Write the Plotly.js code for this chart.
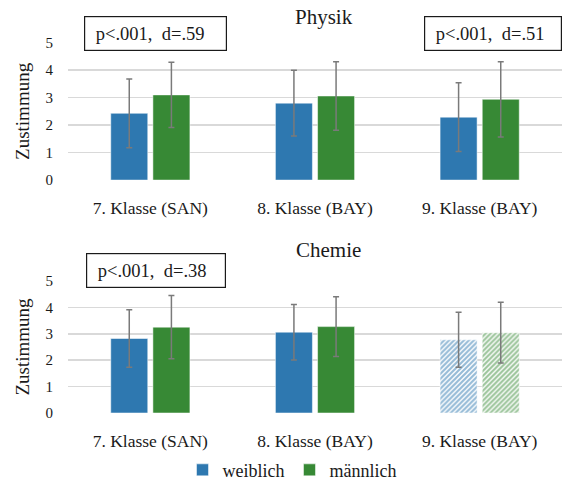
<!DOCTYPE html>
<html>
<head>
<meta charset="utf-8">
<script src="https://cdn.plot.ly/plotly-3.0.1.min.js"></script>
<style>
html,body{margin:0;padding:0;background:#fff;font-family:'Liberation Serif',serif;}
#chart{width:563px;height:489px;}
</style>
</head>
<body>
<div id="chart"></div>
<script>
// ---- data ----
var categories = ['7. Klasse (SAN)', '8. Klasse (BAY)', '9. Klasse (BAY)'];
var seriesNames = ['weiblich', 'männlich'];

var physikWeiblich = [2.43, 2.80, 2.29];
var physikWeiblichSD = [1.25, 1.20, 1.25];
var physikMaennlich = [3.10, 3.06, 2.94];
var physikMaennlichSD = [1.19, 1.25, 1.37];

var chemieWeiblich = [2.82, 3.06, 2.77];
var chemieWeiblichSD = [1.09, 1.05, 1.04];
var chemieMaennlich = [3.25, 3.27, 3.04];
var chemieMaennlichSD = [1.20, 1.13, 1.15];

var chemiePattern = ['', '', '/'];

var yTicks = [0, 1, 2, 3, 4, 5];
var annotationTexts = ['p&lt;.001,  d=.59', 'p&lt;.001,  d=.51', 'p&lt;.001,  d=.38'];
var panelTitles = ['Physik', 'Chemie'];

// ---- style ----
var W = 563, H = 489;
var BLUE = '#2E78B0', GREEN = '#378935';
var FONT = 'Liberation Serif';
var TXT = '#1a1a1a';
function px(x){ return x / W; }
function py(y){ return (H - y) / H; }

function errSpec(arr){
  return {type:'data', array:arr, visible:true, color:'#7a7a7a', thickness:1.5, width:3};
}
function barTrace(name, y, sd, color, xa, ya, showLegend, pattern){
  var t = {
    type:'bar', name:name, x:categories, y:y, xaxis:xa, yaxis:ya,
    marker:{color:color, line:{color:'rgba(255,255,255,0.5)', width:1}},
    error_y:errSpec(sd), showlegend:showLegend, legendgroup:name, hoverinfo:'skip'
  };
  if (pattern) {
    t.marker.pattern = {shape:pattern, fgcolor:color, bgcolor:'#ffffff', size:3.5, solidity:0.62, fillmode:'overlay'};
  }
  return t;
}

var data = [
  barTrace(seriesNames[0], physikWeiblich, physikWeiblichSD, BLUE, 'x', 'y', false),
  barTrace(seriesNames[1], physikMaennlich, physikMaennlichSD, GREEN, 'x', 'y', false),
  barTrace(seriesNames[0], chemieWeiblich, chemieWeiblichSD, BLUE, 'x2', 'y2', true, chemiePattern),
  barTrace(seriesNames[1], chemieMaennlich, chemieMaennlichSD, GREEN, 'x2', 'y2', true, chemiePattern)
];

function xAxis(anchor){
  return {domain:[px(68), px(562)], anchor:anchor, showgrid:false, zeroline:false, showline:false,
    ticks:'', ticklabelstandoff:15, tickfont:{family:FONT, size:17.5, color:TXT}, fixedrange:true};
}
function yAxis(anchor, dom){
  return {domain:dom, anchor:anchor, range:[0,5], tickvals:yTicks, showgrid:true, gridcolor:'#d9d9d9', gridwidth:1.5,
    zeroline:false, showline:false, ticks:'', ticklabelstandoff:14,
    tickfont:{family:FONT, size:15, color:TXT},
    title:{text:'Zustimmung', font:{family:FONT, size:19, color:TXT}, standoff:10}, fixedrange:true};
}

function boxAnn(text, x0, x1, y0, y1){
  var pad = 6;
  return {xref:'paper', yref:'paper', x:px((x0+x1)/2), y:py((y0+y1)/2), xanchor:'center', yanchor:'middle',
    text:'&nbsp;' + text, showarrow:false, font:{family:FONT, size:18.5, color:TXT},
    bordercolor:'#1a1a1a', borderwidth:1.2, borderpad:pad, width:(x1-x0)-2*pad-2, height:(y1-y0)-2*pad-2,
    align:'left', valign:'middle', bgcolor:'#ffffff'};
}
function titleAnn(text, x, y){
  return {xref:'paper', yref:'paper', x:px(x), y:py(y), xanchor:'center', yanchor:'middle', text:text,
    showarrow:false, font:{family:FONT, size:21, color:TXT}};
}

var layout = {
  width:W, height:H, margin:{l:0, r:0, t:0, b:0}, paper_bgcolor:'#ffffff', plot_bgcolor:'#ffffff',
  font:{family:FONT, color:TXT},
  barmode:'group', bargap:0.488, bargroupgap:0.122,
  xaxis:xAxis('y'), yaxis:yAxis('x', [py(182.7), py(43.3)]),
  xaxis2:xAxis('y2'), yaxis2:yAxis('x2', [py(419), py(285)]),
  showlegend:true,
  legend:{orientation:'h', x:px(292), y:py(477), xanchor:'center', yanchor:'middle',
    font:{family:FONT, size:18, color:TXT}, itemwidth:30, tracegroupgap:0, bgcolor:'rgba(0,0,0,0)'},
  annotations:[
    titleAnn(panelTitles[0], 324, 17),
    titleAnn(panelTitles[1], 328, 254),
    boxAnn(annotationTexts[0], 84.3, 226.7, 16, 51),
    boxAnn(annotationTexts[1], 424, 562, 16, 51),
    boxAnn(annotationTexts[2], 85.7, 225.7, 257.3, 292.3)
  ]
};

Plotly.newPlot('chart', data, layout, {displayModeBar:false, staticPlot:true});
</script>
</body>
</html>
